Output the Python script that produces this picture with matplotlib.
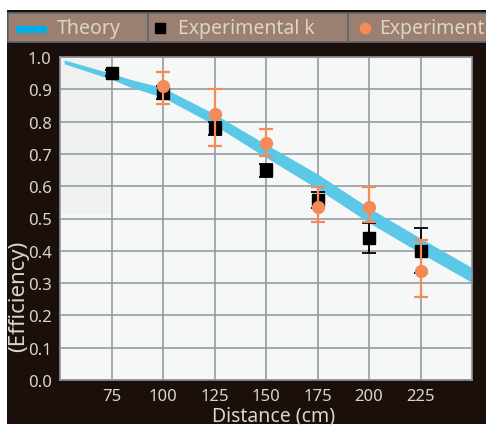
import matplotlib
matplotlib.use("Agg")
import matplotlib.pyplot as plt
from matplotlib.patches import Rectangle
from matplotlib.lines import Line2D

plt.rcParams['font.family'] = ['Noto Sans', 'DejaVu Sans']

# Data
theory_x = [52, 75, 84, 100, 124, 148, 175, 200, 225, 250]
theory_lo = [0.979, 0.931, 0.907, 0.875, 0.793, 0.697, 0.592, 0.487, 0.393, 0.302]
theory_hi = [0.991, 0.949, 0.931, 0.905, 0.827, 0.737, 0.638, 0.533, 0.439, 0.348]

dist = [75, 100, 125, 150, 175, 200, 225]
exp_k = [0.95, 0.89, 0.78, 0.65, 0.556, 0.44, 0.40]
exp_k_err = [0.01, 0.02, 0.02, 0.02, 0.025, 0.047, 0.07]

dist_o = [100, 125, 150, 175, 200, 225]
exp_o = [0.91, 0.825, 0.734, 0.535, 0.535, 0.336]
exp_o_lo = [0.055, 0.10, 0.04, 0.045, 0.045, 0.08]
exp_o_hi = [0.045, 0.077, 0.044, 0.062, 0.062, 0.097]

x_ticks = [75, 100, 125, 150, 175, 200, 225]
y_ticks = [0.0, 0.1, 0.2, 0.3, 0.4, 0.5, 0.6, 0.7, 0.8, 0.9, 1.0]

legend_labels = ["Theory", "Experimental k", "Experiment"]

W, H = 486, 427
BG = "#1a0f0b"
TXT = "#ddd5c5"
CYAN = "#5bc8e8"
ORANGE = "#f48a58"
GRID = "#8e959b"

fig = plt.figure(figsize=(W / 100, H / 100), dpi=100)
fig.patch.set_facecolor("white")
fig.patches.append(Rectangle((7 / W, 1 - 425 / H), (W - 7) / W, (425 - 11) / H,
                             transform=fig.transFigure, facecolor=BG, edgecolor="none", zorder=0))

ax = fig.add_axes([60 / W, 1 - 381 / H, 412 / W, 323 / H])
ax.set_zorder(3)
ax.set_facecolor("#f6f7f7")
ax.add_patch(Rectangle((50, 0.515), 25, 0.485, facecolor="#f0f2f2", edgecolor="none", zorder=0))

ax.fill_between(theory_x, theory_lo, theory_hi, color=CYAN, lw=0, zorder=2)
ax.errorbar(dist, exp_k, yerr=exp_k_err, fmt="s", color="black", ms=8, capsize=5,
            elinewidth=1.3, capthick=1.3, zorder=3)
ax.errorbar(dist_o, exp_o, yerr=[exp_o_lo, exp_o_hi], fmt="o", color=ORANGE, ms=8.5,
            capsize=5, elinewidth=1.6, capthick=1.6, zorder=4)

ax.set_xlim(50, 250)
ax.set_ylim(0, 1.0)
ax.set_xticks(x_ticks)
ax.set_yticks(y_ticks)
ax.set_yticklabels([f"{v:.1f}" for v in y_ticks])
ax.grid(True, color=GRID, lw=1.1, zorder=1)
ax.set_axisbelow(True)
ax.tick_params(length=0, colors=TXT, labelsize=12, pad=6)
for s in ax.spines.values():
    s.set_color(GRID)
    s.set_linewidth(1.2)

fig.text(274 / W, 1 - 417 / H, "Distance (cm)", color=TXT, fontsize=14, ha="center", va="center",
         zorder=5)
fig.text(19 / W, 1 - 296 / H, "(Efficiency)", color=TXT, fontsize=16, ha="center", va="center",
         rotation=90, zorder=5)

# Legend bar
LEG_BG = "#9b7f71"
LEG_EDGE = "#5d6870"
y0, y1 = 1 - 43 / H, 1 - 14 / H
cells = [(8, 148), (148, 348), (348, 490)]
for (a, b) in cells:
    fig.patches.append(Rectangle((a / W, y0), (b - a) / W, y1 - y0, transform=fig.transFigure,
                                 facecolor=LEG_BG, edgecolor=LEG_EDGE, lw=1.2, zorder=1))
ym = 1 - 29 / H
fig.patches.append(Rectangle((16 / W, 1 - 34 / H), 31 / W, 7 / H, transform=fig.transFigure,
                             facecolor="#00aee6", edgecolor="none", zorder=2))
fig.lines.append(Line2D([160 / W], [ym], transform=fig.transFigure, marker="s", ms=7,
                        color="black", ls="none", zorder=2))
fig.lines.append(Line2D([365 / W], [ym], transform=fig.transFigure, marker="o", ms=7.5,
                        color=ORANGE, ls="none", zorder=2))
for xp, lab in zip([57, 178, 379], legend_labels):
    fig.text(xp / W, ym, lab, color=TXT, fontsize=14, va="center", ha="left", zorder=5)

fig.savefig("out.png", dpi=100, facecolor=fig.get_facecolor())
